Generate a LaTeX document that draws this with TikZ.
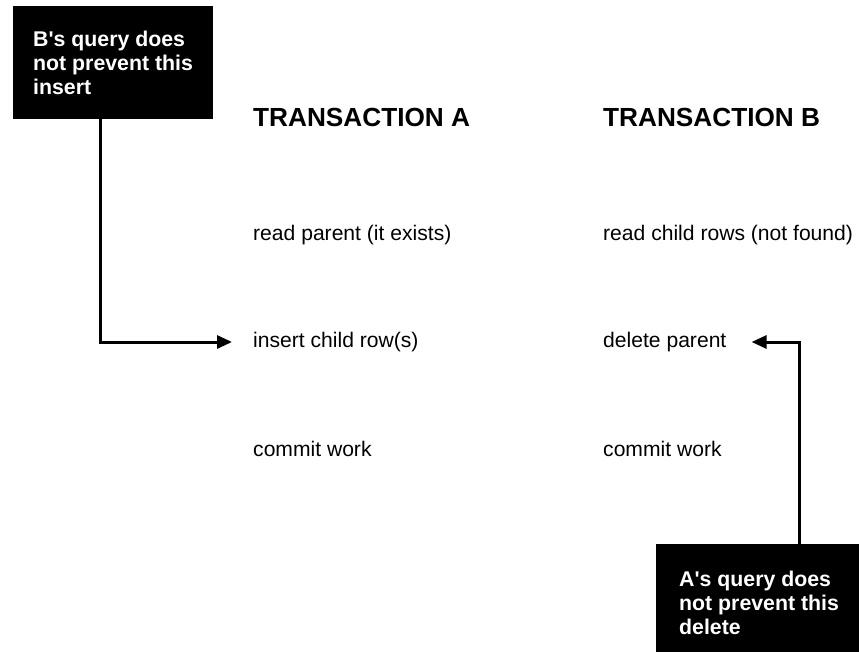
\documentclass[tikz,border=0pt]{standalone}
\usepackage{fontspec}
\setmainfont{Liberation Sans}
\usetikzlibrary{arrows.meta, positioning, calc}

\tikzset{
  header/.style={anchor=base west, inner sep=0pt, font=\fontsize{26.2}{30}\selectfont\bfseries},
  action/.style={anchor=base west, inner sep=0pt, text height=15pt, text depth=5pt, font=\fontsize{21.1}{25}\selectfont},
  notebox/.style={anchor=north west, fill=black, text=white, align=left, inner xsep=21pt, inner ysep=0pt, font=\fontsize{21.3}{24}\selectfont\bfseries},
  flowarrow/.style={line width=3pt, -{Triangle[length=15pt, width=13pt]}}
}

\begin{document}
\begin{tikzpicture}[x=1pt, y=-1pt]
  \useasboundingbox (0,0) rectangle (859,652);

  % column headers
  \node[header] (headA) at (253,127) {TRANSACTION A};
  \node[header] (headB) at (603,127) {TRANSACTION B};

  % transaction A
  \node[action] (readA) at (253,241) {read parent (it exists)};
  \node[action] (insA) at (253,347) {insert child row(s)};
  \node[action] (comA) at (253,456) {commit work};

  % transaction B
  \node[action] (readB) at (603,241) {read child rows (not found)};
  \node[action] (delB) at (603,347) {delete parent};
  \node[action] (comB) at (603,456) {commit work};

  % notes
  \node[notebox, inner xsep=20pt, minimum height=113pt] (noteB) at (13,6)
    {B\textquotesingle s query does\\ not prevent this\\ insert};
  \node[notebox, inner xsep=23pt, minimum height=118pt] (noteA) at (656,544)
    {A\textquotesingle s query does\\ not prevent this\\ delete};

  % connectors
  \coordinate (bendA) at (100,341);
  \coordinate (bendB) at (799,340);
  \draw[flowarrow, shorten >=21pt] (noteB.south -| bendA) |- (insA.west);
  \draw[flowarrow, shorten >=25pt] (noteA.north -| bendB) |- (delB.east);
\end{tikzpicture}
\end{document}
